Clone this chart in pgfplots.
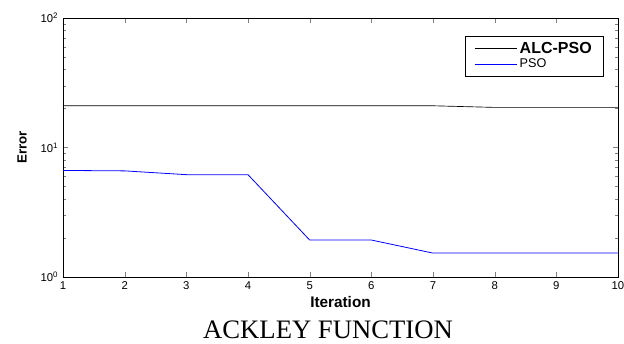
\documentclass[border=0pt]{standalone}
\usepackage{fontspec}
\setmainfont{Liberation Sans}
\newfontfamily\timesfont{Liberation Serif}
\usepackage{pgfplots}
\pgfplotsset{compat=1.18}

% Best error per iteration
\pgfplotstableread{
it  err
1   21.0
2   21.0
3   21.0
4   21.0
5   21.0
6   21.0
7   21.0
8   20.4
9   20.4
10  20.4
}\alcpso
\pgfplotstableread{
it  err
1   6.65
2   6.60
3   6.17
4   6.17
5   1.93
6   1.93
7   1.53
8   1.53
9   1.53
10  1.53
}\pso

\begin{document}
\begin{tikzpicture}
\begin{semilogyaxis}[
  scale only axis,
  width=416.25pt, height=194.25pt,
  xmin=1, xmax=10, ymin=1, ymax=100,
  xtick={1,...,10},
  ytick={1,10,100},
  yminorticks=true,
  yticklabels={10\textsuperscript{0},10\textsuperscript{1},10\textsuperscript{2}},
  /pgf/number format/assume math mode=true,
  tick label style={font=\fontsize{8.5}{10}\selectfont},
  tick align=inside,
  major tick length=3.75pt,
  minor tick length=2.6pt,
  xlabel={\bfseries Iteration},
  ylabel={\bfseries Error},
  xlabel style={font=\fontsize{11.5}{13}\selectfont, at={(axis description cs:0.5,-0.1184)}, anchor=base},
  ylabel style={font=\fontsize{10}{12}\selectfont, at={(axis description cs:-0.0739,0.5)}, anchor=center},
  legend style={at={(axis description cs:0.9748,0.9318)}, anchor=north east,
    inner xsep=7pt, inner ysep=2.5pt, row sep=-1pt},
  legend cell align=left,
  legend image code/.code={\draw[#1] (0pt,0pt) -- (31.5pt,0pt);},
]
\addplot[black, line width=0.5pt] table[x=it, y=err] {\alcpso};
\addlegendentry{\fontsize{12}{14}\selectfont\bfseries ALC-PSO}
\addplot[blue, line width=0.6pt] table[x=it, y=err] {\pso};
\addlegendentry{\fontsize{9.5}{11}\selectfont PSO}
\end{semilogyaxis}
\node[anchor=base, font=\timesfont\fontsize{20}{23}\selectfont] at (198.75pt,-46.3pt) {ACKLEY FUNCTION};
\pgfresetboundingbox
\path[use as bounding box] (-47.25pt,-50pt) rectangle (420.75pt,207.75pt);
\end{tikzpicture}
\end{document}
